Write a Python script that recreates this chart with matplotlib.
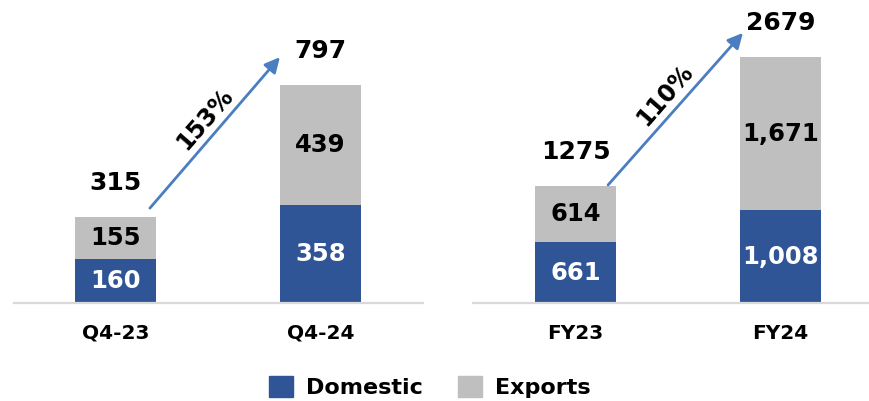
import matplotlib.pyplot as plt
from matplotlib.patches import Patch

# data
left_cats = ["Q4-23", "Q4-24"]
left_domestic = [160, 358]
left_exports = [155, 439]
left_totals = [315, 797]
left_growth = "153%"

right_cats = ["FY23", "FY24"]
right_domestic = [661, 1008]
right_exports = [614, 1671]
right_totals = [1275, 2679]
right_growth = "110%"

blue = "#2F5597"
grey = "#BFBFBF"
arrow_col = "#4A7EC0"

plt.rcParams["font.family"] = "DejaVu Sans"
plt.rcParams["font.weight"] = "bold"

fig = plt.figure(figsize=(8.7, 4.01), dpi=100)
W, H = 870, 401

# axes placed in pixel terms
ax1 = fig.add_axes([14 / W, 98 / H, 409 / W, 303 / H])
ax2 = fig.add_axes([473 / W, 98 / H, 397 / W, 303 / H])


def draw(ax, cats, dom, exp, tot, growth, ymax, xlim, arrow):
    x = range(len(cats))
    ax.bar(x, dom, width=0.395, color=blue)
    ax.bar(x, exp, bottom=dom, width=0.395, color=grey)
    ax.set_ylim(0, ymax)
    ax.set_xlim(*xlim)
    for s in ["top", "left", "right"]:
        ax.spines[s].set_visible(False)
    ax.spines["bottom"].set_color("#D9D9D9")
    ax.spines["bottom"].set_linewidth(1.6)
    ax.set_yticks([])
    ax.set_xticks(list(x))
    ax.set_xticklabels(cats, fontsize=14.5, fontweight="bold")
    ax.tick_params(axis="x", length=0, pad=15)
    for i in x:
        ax.text(i, dom[i] / 2, f"{dom[i]:,}", ha="center", va="center",
                color="white", fontsize=17.5, fontweight="bold")
        ax.text(i, dom[i] + exp[i] / 2, f"{exp[i]:,}", ha="center", va="center",
                color="black", fontsize=17.5, fontweight="bold")
        ax.annotate(str(tot[i]), (i, tot[i]), xytext=(0, 22),
                    textcoords="offset pixels", ha="center", va="bottom",
                    fontsize=18, fontweight="bold")
    (x0, y0), (x1, y1) = arrow
    ax.annotate("", xy=(x1, y1), xytext=(x0, y0),
                arrowprops=dict(arrowstyle="-|>,head_length=0.9,head_width=0.45",
                                color=arrow_col, lw=2, shrinkA=0, shrinkB=0))
    mx, my = (x0 + x1) / 2, (y0 + y1) / 2
    ax.annotate(growth, (mx, my), xytext=(-10, 14), textcoords="offset pixels",
                ha="center", va="center", rotation=49,
                fontsize=17, fontweight="bold")


draw(ax1, left_cats, left_domestic, left_exports, left_totals, left_growth,
     1108, (-0.495, 1.5), ((0.168, 347), (0.802, 899)))
draw(ax2, right_cats, right_domestic, right_exports, right_totals, right_growth,
     3296, (-0.5, 1.437), ((0.159, 1284), (0.817, 2938)))

handles = [Patch(color=blue, label="Domestic"), Patch(color=grey, label="Exports")]
fig.legend(handles=handles, loc="center", bbox_to_anchor=(430 / W, 1 - 387 / H),
           ncol=2, frameon=False, fontsize=16, handlelength=1.05, handleheight=1.05,
           columnspacing=1.6, handletextpad=0.6)

fig.savefig("out.png", dpi=100)
